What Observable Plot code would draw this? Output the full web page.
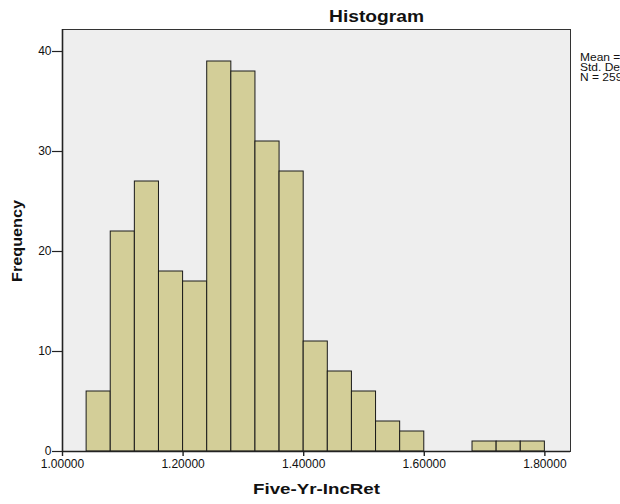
<!DOCTYPE html>
<html>
<head>
<meta charset="utf-8">
<script src="https://cdn.jsdelivr.net/npm/d3@7"></script>
<script src="https://cdn.jsdelivr.net/npm/@observablehq/plot@0.6"></script>
<style>
  html, body { margin: 0; padding: 0; background: #ffffff; }
  #chart { width: 620px; height: 504px; overflow: hidden; }
  #chart svg { display: block; }
</style>
</head>
<body>
<div id="chart"></div>
<script>
// Histogram of five-year incremental returns (bin width 0.04)
const binLower = [1.04, 1.08, 1.12, 1.16, 1.20, 1.24, 1.28, 1.32, 1.36, 1.40,
                  1.44, 1.48, 1.52, 1.56, 1.68, 1.72, 1.76];
const binUpper = [1.08, 1.12, 1.16, 1.20, 1.24, 1.28, 1.32, 1.36, 1.40, 1.44,
                  1.48, 1.52, 1.56, 1.60, 1.72, 1.76, 1.80];
const counts   = [6, 22, 27, 18, 17, 39, 38, 31, 28, 11,
                  8, 6, 3, 2, 1, 1, 1];
const xTicks = [1.0, 1.2, 1.4, 1.6, 1.8];
const yTicks = [0, 10, 20, 30, 40];

const bins = binLower.map((lo, i) => ({lo, hi: binUpper[i], n: counts[i]}));

// Summary statistics from the binned values
const N = d3.sum(counts);
const mids = bins.map(b => (b.lo + b.hi) / 2);
const mean = d3.sum(bins, (b, i) => mids[i] * b.n) / N;
const sd = Math.sqrt(d3.sum(bins, (b, i) => b.n * (mids[i] - mean) ** 2) / (N - 1));

const font = "'Liberation Sans', Arial, sans-serif";

const chart = Plot.plot({
  width: 620,
  height: 504,
  marginLeft: 62,
  marginRight: 50,
  marginTop: 29,
  marginBottom: 53,
  style: {fontFamily: font, fontSize: "12px", color: "#111", background: "#ffffff"},
  x: {domain: [1.0, 1.8425]},
  y: {domain: [0, 42.2]},
  marks: [
    Plot.frame({fill: "#eeeeee", stroke: "#333333", strokeWidth: 1}),
    Plot.rectY(bins, {
      x1: "lo", x2: "hi", y: "n",
      fill: "#d3ce98", stroke: "#1a1a1a", strokeWidth: 1, inset: 0
    }),
    Plot.ruleY([0], {stroke: "#222222", strokeWidth: 1.6}),
    Plot.ruleX([1.0], {stroke: "#222222", strokeWidth: 1.6}),
    Plot.axisX(xTicks, {
      tickSize: 5, tickPadding: 3, tickFormat: d => d.toFixed(5),
      stroke: "#222222", strokeWidth: 1.4, label: null, fontSize: 12
    }),
    Plot.axisY(yTicks, {
      tickSize: 10, tickPadding: 1, tickFormat: d => String(d),
      stroke: "#222222", strokeWidth: 1.2, label: null, fontSize: 12
    })
  ]
});

document.getElementById("chart").appendChild(chart);

// Title, axis titles and summary box
const svg = d3.select(chart);

svg.append("text")
  .attr("transform", "translate(376.5,22.3) scale(1.2,1)")
  .attr("text-anchor", "middle")
  .attr("font-family", font)
  .attr("font-weight", "bold")
  .attr("font-size", 16)
  .attr("fill", "#111")
  .text("Histogram");

svg.append("text")
  .attr("transform", "translate(316.5,494) scale(1.25,1)")
  .attr("text-anchor", "middle")
  .attr("font-family", font)
  .attr("font-weight", "bold")
  .attr("font-size", 15)
  .attr("fill", "#111")
  .text("Five-Yr-IncRet");

svg.append("text")
  .attr("transform", "translate(22,241) rotate(-90) scale(1.08,1)")
  .attr("text-anchor", "middle")
  .attr("font-family", font)
  .attr("font-weight", "bold")
  .attr("font-size", 15)
  .attr("fill", "#111")
  .text("Frequency");

const stats = [
  `Mean = ${mean.toFixed(2)}`,
  `Std. Dev. = ${sd.toFixed(3)}`,
  `N = ${N}`
];
svg.append("g")
  .attr("transform", "translate(580,0) scale(1.2,1)")
  .attr("font-family", font)
  .attr("font-size", 10)
  .attr("text-anchor", "start")
  .attr("fill", "#111")
  .selectAll("text")
  .data(stats)
  .join("text")
  .attr("x", 0)
  .attr("y", (d, i) => 61 + i * 10)
  .attr("text-anchor", "start")
  .text(d => d);
</script>
</body>
</html>
